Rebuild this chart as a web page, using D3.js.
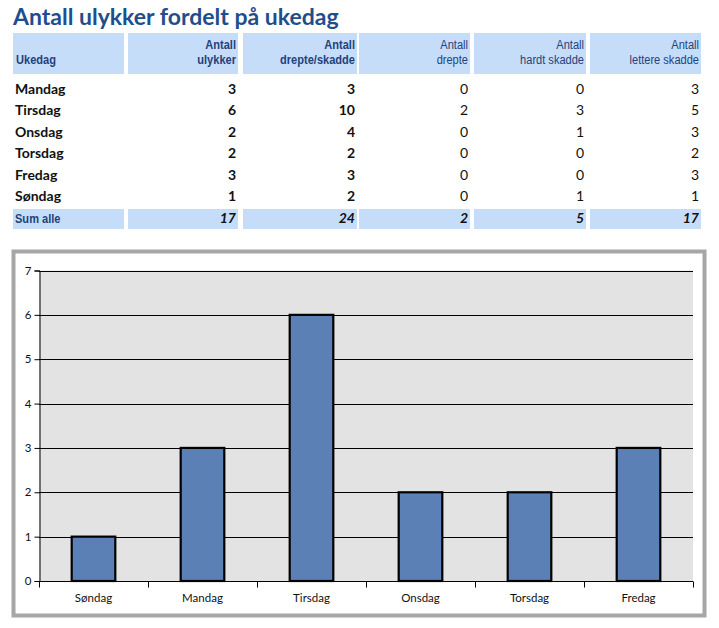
<!DOCTYPE html>
<html><head><meta charset="utf-8">
<script src="https://cdn.jsdelivr.net/npm/d3@7"></script>
<style>
html,body{margin:0;padding:0;background:#fff;}
svg{display:block;}
</style></head>
<body>
<script>
// ---- data ----
const title = "Antall ulykker fordelt på ukedag";
const headerLines = [["Ukedag"],["Antall","ulykker"],["Antall","drepte/skadde"],["Antall","drepte"],["Antall","hardt skadde"],["Antall","lettere skadde"]];
const tableDays = ["Mandag","Tirsdag","Onsdag","Torsdag","Fredag","Søndag"];
const ulykker = [3,6,2,2,3,1];
const drepteSkadde = [3,10,4,2,3,2];
const drepte = [0,2,0,0,0,0];
const hardtSkadde = [0,3,1,0,0,1];
const lettereSkadde = [3,5,3,2,3,1];
const sumLabel = "Sum alle";
const sums = [17,24,2,5,17];

const chartDays = ["Søndag","Mandag","Tirsdag","Onsdag","Torsdag","Fredag"];
const chartValues = [1,3,6,2,2,3];
const yTicks = [0,1,2,3,4,5,6,7];

// ---- layout ----
const W = 719, H = 628;
const svg = d3.select("body").append("svg").attr("width", W).attr("height", H);
const blue = "#1F4E8C";
const headBlue = "#23427A";
const headFill = "#C6DDFA";
const bodyFont = "Lato, 'Open Sans', sans-serif";
const narrowFont = "'Liberation Sans', Arial, sans-serif";

svg.append("text").attr("x", 13).attr("y", 25)
  .attr("font-family", bodyFont).attr("font-weight", 700).attr("font-size", 23)
  .attr("fill", blue).text(title);

// table columns
const cols = [[13,124],[128,238],[243,357],[359,470],[474,586],[590,701]];
const headerBold = [true,true,true,false,false,false];

// header boxes
cols.forEach((c,i) => {
  svg.append("rect").attr("x", c[0]).attr("y", 33).attr("width", c[1]-c[0]).attr("height", 41).attr("fill", headFill);
  svg.append("rect").attr("x", c[0]).attr("y", 209).attr("width", c[1]-c[0]).attr("height", 20).attr("fill", headFill);
});

function narrowText(x, y, txt, anchor, bold, size) {
  svg.append("g").attr("transform", `translate(${x},${y}) scale(0.82,1)`)
    .append("text").attr("x",0).attr("y",0).attr("text-anchor", anchor)
    .attr("font-family", narrowFont).attr("font-weight", bold ? 700 : 400)
    .attr("font-size", size).attr("fill", headBlue).text(txt);
}

headerLines.forEach((lines,i) => {
  const c = cols[i];
  if (i === 0) {
    narrowText(c[0]+3, 64, lines[0], "start", true, 13.5);
  } else {
    lines.forEach((l,j) => narrowText(c[1]-2, 49 + j*15, l, "end", headerBold[i], 13.5));
  }
});

const rowY = d3.scaleLinear().domain([0,1]).range([93.5, 115]);
const seriesCols = [ulykker, drepteSkadde, drepte, hardtSkadde, lettereSkadde];
const seriesBold = [true,true,false,false,false];
tableDays.forEach((d,r) => {
  svg.append("text").attr("x", 15).attr("y", rowY(r))
    .attr("font-family", bodyFont).attr("font-weight", 700).attr("font-size", 14)
    .attr("fill", "#111").text(d);
  seriesCols.forEach((s,k) => {
    svg.append("text").attr("x", cols[k+1][1]-2).attr("y", rowY(r)).attr("text-anchor","end")
      .attr("font-family", bodyFont).attr("font-weight", seriesBold[k] ? 700 : 400).attr("font-size", 14)
      .attr("fill", "#111").text(s[r]);
  });
});
narrowText(15, 223, sumLabel, "start", true, 13.5);
sums.forEach((v,k) => {
  svg.append("text").attr("x", cols[k+1][1]-2).attr("y", 223).attr("text-anchor","end")
    .attr("font-family", bodyFont).attr("font-weight", 700).attr("font-style","italic").attr("font-size", 14)
    .attr("fill", "#111").text(v);
});

// ---- chart ----
svg.append("rect").attr("x", 13.5).attr("y", 251.5).attr("width", 691).attr("height", 364)
  .attr("fill", "#fff").attr("stroke", "#A6A6A6").attr("stroke-width", 4);

const x0 = 39, x1 = 693, yTop = 270.5, yBot = 581;
const x = d3.scaleBand().domain(chartDays).range([x0, x1]).paddingInner(0).paddingOuter(0);
const y = d3.scaleLinear().domain([0,7]).range([yBot, yTop]);

svg.append("rect").attr("x", x0).attr("y", yTop).attr("width", x1-x0).attr("height", yBot-yTop).attr("fill", "#E3E3E3");

svg.append("g").selectAll("line").data(yTicks.filter(t=>t>0)).join("line")
  .attr("x1", x0).attr("x2", x1).attr("y1", d=>Math.round(y(d))+0.5).attr("y2", d=>Math.round(y(d))+0.5)
  .attr("stroke", "#000").attr("stroke-width", 1);

const bw = x.bandwidth()*0.4;
svg.append("g").selectAll("rect").data(chartValues).join("rect")
  .attr("x", (d,i)=> x(chartDays[i]) + (x.bandwidth()-bw)/2)
  .attr("y", d=> y(d))
  .attr("width", bw).attr("height", d=> y(0)-y(d))
  .attr("fill", "#5B80B5").attr("stroke", "#000").attr("stroke-width", 2.2);

// y axis
const yAxis = d3.axisLeft(y).tickValues(yTicks).tickSize(5).tickPadding(3).tickFormat(d3.format("d"));
const gy = svg.append("g").attr("transform", `translate(${x0+0.5},0)`).call(yAxis);
gy.select(".domain").attr("stroke","#000");
gy.selectAll(".tick line").attr("stroke","#000");
gy.selectAll("text").attr("font-family", bodyFont).attr("font-size", 11.5).attr("fill","#111");

// x axis
const xAxis = d3.axisBottom(x).tickSize(0).tickPadding(12);
const gx = svg.append("g").attr("transform", `translate(0,${yBot+0.5})`).call(xAxis);
gx.select(".domain").attr("stroke","#000").attr("d", `M${x0},0H${x1}`);
gx.selectAll("text").attr("font-family", bodyFont).attr("font-size", 11.5).attr("fill","#111");
const bounds = chartDays.map(d=>x(d)).concat([x1]);
gx.selectAll(".bnd").data(bounds).join("line").attr("class","bnd")
  .attr("x1", d=>Math.round(d)+0.5).attr("x2", d=>Math.round(d)+0.5).attr("y1",0).attr("y2",6)
  .attr("stroke","#000");
</script>
</body></html>
